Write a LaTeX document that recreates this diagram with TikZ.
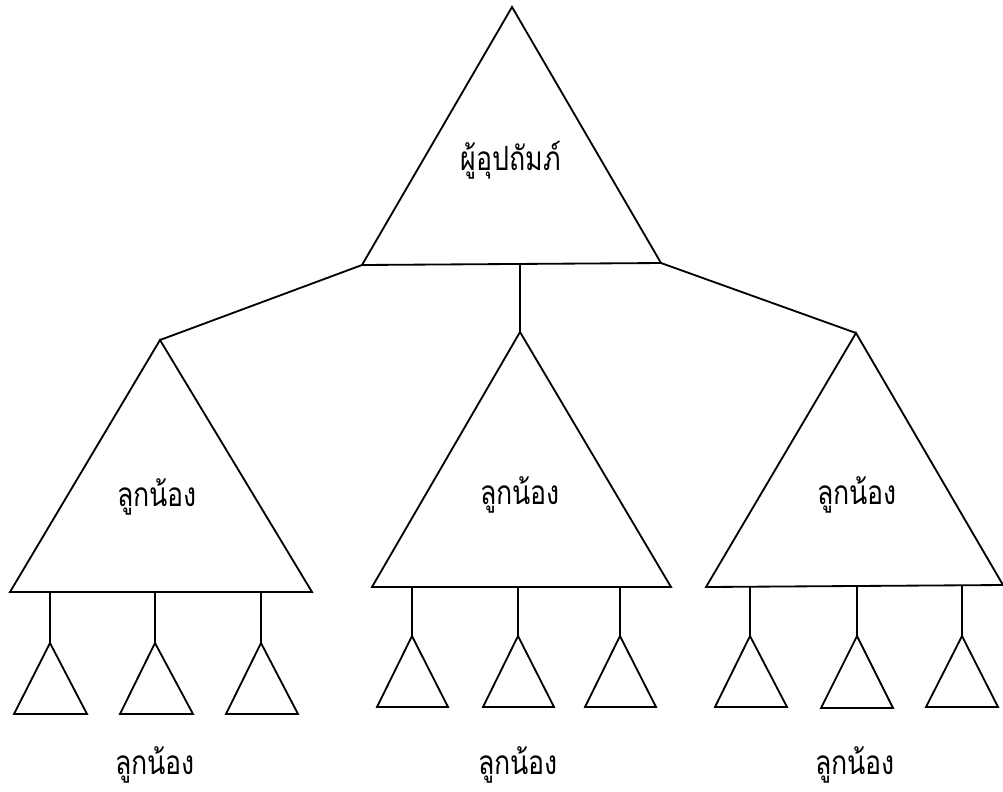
\documentclass[tikz,border=0pt]{standalone}
\usepackage{fontspec}
\newfontfamily\thaifont[Script=Thai]{Loma}
\begin{document}
\begin{tikzpicture}[x=0.025cm,y=-0.025cm,line width=1.3pt]
\tikzset{lbl/.style={font=\thaifont\fontsize{19}{22}\selectfont, inner sep=0pt, yscale=1.25}}
\useasboundingbox (0,0) rectangle (1003,791);
\coordinate (root) at (512,7);
\coordinate (rootL) at (362,265);
\coordinate (rootM) at (520,264);
\coordinate (rootR) at (661,263);
\draw (root) -- (rootL) -- (rootR) -- cycle;
\node[lbl] (troot) at (511,160) {ผู้อุปถัมภ์};
\coordinate (kid1) at (160,340);
\coordinate (kid1L) at (10,592);
\coordinate (kid1R) at (312,592);
\draw (kid1) -- (kid1L) -- (kid1R) -- cycle;
\node[lbl] (tkid1) at (157,497) {ลูกน้อง};
\coordinate (kid2) at (520,332);
\coordinate (kid2L) at (372,587);
\coordinate (kid2R) at (671,587);
\draw (kid2) -- (kid2L) -- (kid2R) -- cycle;
\node[lbl] (tkid2) at (520,495) {ลูกน้อง};
\coordinate (kid3) at (856,333);
\coordinate (kid3L) at (706,587);
\coordinate (kid3R) at (1003,585);
\draw (kid3) -- (kid3L) -- (kid3R) -- cycle;
\node[lbl] (tkid3) at (857,495) {ลูกน้อง};
\draw (rootL) -- (kid1);
\draw (rootM) -- (kid2);
\draw (rootR) -- (kid3);
% small ones under kid1
\coordinate (kid11) at (50,643);
\draw (50,592) -- (kid11);
\draw (kid11) -- (14,714) -- (87,714) -- cycle;
\coordinate (kid12) at (155,643);
\draw (155,592) -- (kid12);
\draw (kid12) -- (120,714) -- (193,714) -- cycle;
\coordinate (kid13) at (261,643);
\draw (261,592) -- (kid13);
\draw (kid13) -- (226,714) -- (298,714) -- cycle;
% small ones under kid2
\coordinate (kid21) at (412,636);
\draw (412,587) -- (kid21);
\draw (kid21) -- (377,707) -- (448,707) -- cycle;
\coordinate (kid22) at (518,636);
\draw (518,587) -- (kid22);
\draw (kid22) -- (483,707) -- (554,707) -- cycle;
\coordinate (kid23) at (620,636);
\draw (620,587) -- (kid23);
\draw (kid23) -- (585,707) -- (656,707) -- cycle;
% small ones under kid3
\coordinate (kid31) at (750,636);
\draw (750,587) -- (kid31);
\draw (kid31) -- (715,707) -- (787,707) -- cycle;
\coordinate (kid32) at (857,636);
\draw (857,586) -- (kid32);
\draw (kid32) -- (821,708) -- (893,708) -- cycle;
\coordinate (kid33) at (962,636);
\draw (962,585) -- (kid33);
\draw (kid33) -- (926,707) -- (998,707) -- cycle;
\node[lbl] (tbot1) at (155,765) {ลูกน้อง};
\node[lbl] (tbot2) at (518,765) {ลูกน้อง};
\node[lbl] (tbot3) at (855,765) {ลูกน้อง};
\end{tikzpicture}
\end{document}
